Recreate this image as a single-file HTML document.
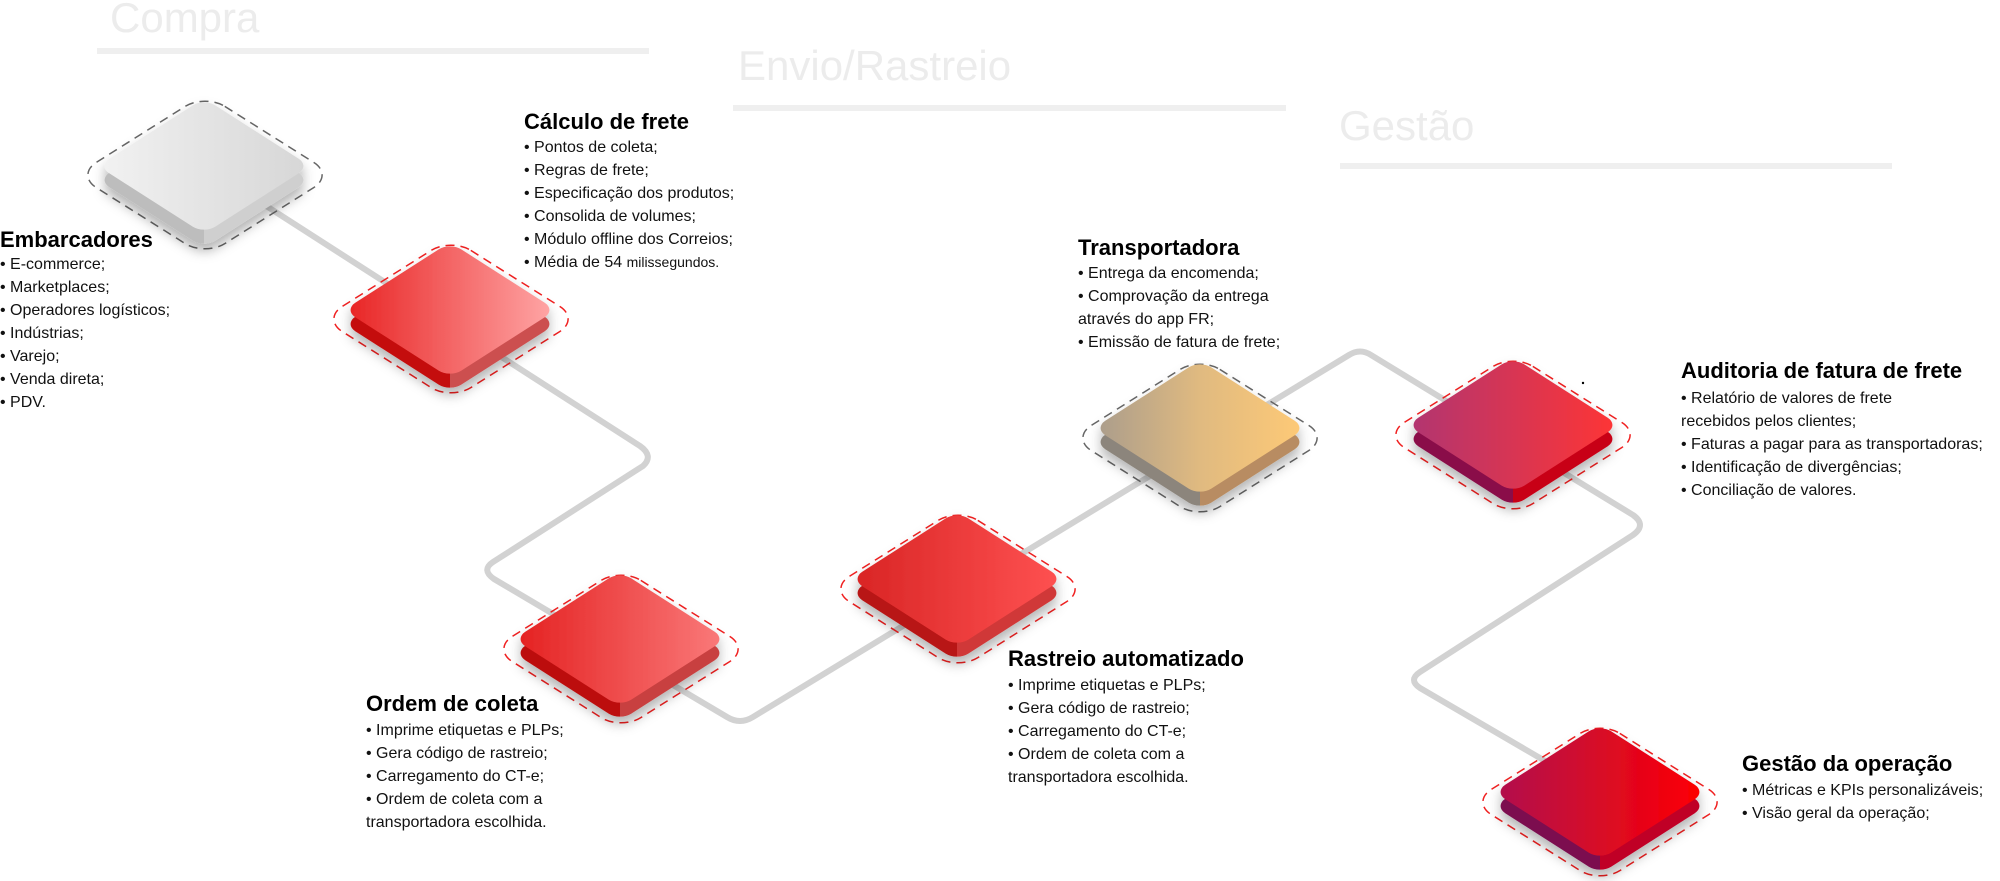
<!DOCTYPE html>
<html><head><meta charset="utf-8"><style>
html,body{margin:0;padding:0;background:#fff;}
svg{display:block;}
.t{font-family:"Liberation Sans Narrow","Liberation Sans",sans-serif;font-weight:bold;font-size:22px;fill:#000;}
.b{font-family:"Liberation Sans Narrow","Liberation Sans",sans-serif;font-size:16px;fill:#111;}
.h{font-family:"Liberation Sans",sans-serif;font-size:42px;fill:#ececec;}
.o{fill:none;stroke-width:1.5;stroke-dasharray:9,6;}
</style></head><body>
<svg width="2000" height="881" viewBox="0 0 2000 881" xmlns="http://www.w3.org/2000/svg">
<defs>
<filter id="sh" x="-30%" y="-30%" width="160%" height="170%"><feDropShadow dx="0" dy="7" stdDeviation="6" flood-color="#000" flood-opacity="0.3"/></filter>
<linearGradient id="gW" gradientUnits="userSpaceOnUse" x1="-75" y1="75" x2="75" y2="-75"><stop offset="0" stop-color="#f2f2f2"/><stop offset="1" stop-color="#d6d6d6"/></linearGradient>
<linearGradient id="g1" gradientUnits="userSpaceOnUse" x1="-75" y1="75" x2="75" y2="-75"><stop offset="0" stop-color="#e82222"/><stop offset="1" stop-color="#ffa8a8"/></linearGradient>
<linearGradient id="g2" gradientUnits="userSpaceOnUse" x1="-75" y1="75" x2="75" y2="-75"><stop offset="0" stop-color="#e42020"/><stop offset="1" stop-color="#fa7b7b"/></linearGradient>
<linearGradient id="g3" gradientUnits="userSpaceOnUse" x1="-75" y1="75" x2="75" y2="-75"><stop offset="0" stop-color="#d82424"/><stop offset="1" stop-color="#ff5252"/></linearGradient>
<linearGradient id="g4" gradientUnits="userSpaceOnUse" x1="-75" y1="75" x2="75" y2="-75"><stop offset="0" stop-color="#a99c8c"/><stop offset="0.5" stop-color="#e0ba80"/><stop offset="1" stop-color="#ffca76"/></linearGradient>
<linearGradient id="g5" gradientUnits="userSpaceOnUse" x1="-75" y1="75" x2="75" y2="-75"><stop offset="0" stop-color="#b03472"/><stop offset="1" stop-color="#ff3434"/></linearGradient>
<linearGradient id="g6" gradientUnits="userSpaceOnUse" x1="-75" y1="75" x2="75" y2="-75"><stop offset="0" stop-color="#b0124e"/><stop offset="1" stop-color="#ff0000"/></linearGradient>
<linearGradient id="sW" gradientUnits="userSpaceOnUse" x1="-75" y1="75" x2="75" y2="-75"><stop offset="0.5" stop-color="#bdbdbd"/><stop offset="0.5" stop-color="#cfcfcf"/></linearGradient>
<linearGradient id="s1" gradientUnits="userSpaceOnUse" x1="-75" y1="75" x2="75" y2="-75"><stop offset="0.5" stop-color="#c40e0e"/><stop offset="0.5" stop-color="#cc5050"/></linearGradient>
<linearGradient id="s2" gradientUnits="userSpaceOnUse" x1="-75" y1="75" x2="75" y2="-75"><stop offset="0.5" stop-color="#bc1010"/><stop offset="0.5" stop-color="#c84040"/></linearGradient>
<linearGradient id="s3" gradientUnits="userSpaceOnUse" x1="-75" y1="75" x2="75" y2="-75"><stop offset="0.5" stop-color="#b81414"/><stop offset="0.5" stop-color="#d03838"/></linearGradient>
<linearGradient id="s4" gradientUnits="userSpaceOnUse" x1="-75" y1="75" x2="75" y2="-75"><stop offset="0.5" stop-color="#8c857c"/><stop offset="0.5" stop-color="#b88c62"/></linearGradient>
<linearGradient id="s5" gradientUnits="userSpaceOnUse" x1="-75" y1="75" x2="75" y2="-75"><stop offset="0.5" stop-color="#8a0e48"/><stop offset="0.5" stop-color="#c80418"/></linearGradient>
<linearGradient id="s6" gradientUnits="userSpaceOnUse" x1="-75" y1="75" x2="75" y2="-75"><stop offset="0.5" stop-color="#7c1050"/><stop offset="0.5" stop-color="#c00028"/></linearGradient>
<rect id="face" x="-75" y="-75" width="150" height="150" rx="16"/>
<rect id="ol" x="-91" y="-91" width="182" height="182" rx="28" vector-effect="non-scaling-stroke"/>
</defs>

<text class="h" x="110" y="32">Compra</text>
<rect x="97" y="48" width="552" height="6" fill="#efefef"/>
<text class="h" x="738" y="80">Envio/Rastreio</text>
<rect x="733" y="105" width="553" height="6" fill="#efefef"/>
<text class="h" x="1339" y="140">Gestão</text>
<rect x="1340" y="163" width="552" height="6" fill="#efefef"/>

<path d="M204,166 L640,446 Q654,456 643,466 L493,562 Q481,570 494,579 L727,717 Q740,725 753,717 L1349,355 Q1360,348 1371,355 L1633,515 Q1647,525 1633,535 L1420,672 Q1408,680 1420,688 L1600,793" fill="none" stroke="#d2d2d2" stroke-width="6" stroke-linejoin="round"/>

<!-- White -->
<use href="#ol" class="o" stroke="#666" transform="translate(205,175) scale(1,0.63) rotate(45)"/>
<g filter="url(#sh)">
<use href="#face" fill="url(#sW)" transform="translate(204,180) scale(1,0.64) rotate(45)"/>
<use href="#face" fill="url(#gW)" transform="translate(204,166) scale(1,0.64) rotate(45)"/>
</g>

<!-- Red1 -->
<use href="#ol" class="o" stroke="#f02020" transform="translate(451,319) scale(1,0.63) rotate(45)"/>
<g filter="url(#sh)">
<use href="#face" fill="url(#s1)" transform="translate(450,324) scale(1,0.64) rotate(45)"/>
<use href="#face" fill="url(#g1)" transform="translate(450,310) scale(1,0.64) rotate(45)"/>
</g>

<!-- Ordem -->
<use href="#ol" class="o" stroke="#f02020" transform="translate(621,649) scale(1,0.63) rotate(45)"/>
<g filter="url(#sh)">
<use href="#face" fill="url(#s2)" transform="translate(620,653) scale(1,0.64) rotate(45)"/>
<use href="#face" fill="url(#g2)" transform="translate(620,639) scale(1,0.64) rotate(45)"/>
</g>

<!-- Rastreio -->
<use href="#ol" class="o" stroke="#f02020" transform="translate(958,589) scale(1,0.63) rotate(45)"/>
<g filter="url(#sh)">
<use href="#face" fill="url(#s3)" transform="translate(957,593) scale(1,0.64) rotate(45)"/>
<use href="#face" fill="url(#g3)" transform="translate(957,579) scale(1,0.64) rotate(45)"/>
</g>

<!-- Transportadora -->
<use href="#ol" class="o" stroke="#666" transform="translate(1200,438) scale(1,0.63) rotate(45)"/>
<g filter="url(#sh)">
<use href="#face" fill="url(#s4)" transform="translate(1200,442) scale(1,0.64) rotate(45)"/>
<use href="#face" fill="url(#g4)" transform="translate(1200,428) scale(1,0.64) rotate(45)"/>
</g>

<!-- Auditoria -->
<use href="#ol" class="o" stroke="#f02020" transform="translate(1513,435) scale(1,0.63) rotate(45)"/>
<g filter="url(#sh)">
<use href="#face" fill="url(#s5)" transform="translate(1513,439) scale(1,0.64) rotate(45)"/>
<use href="#face" fill="url(#g5)" transform="translate(1513,425) scale(1,0.64) rotate(45)"/>
</g>
<circle cx="1583" cy="383" r="1.2" fill="#000"/>

<!-- Gestão -->
<use href="#ol" class="o" stroke="#f02020" transform="translate(1600,802) scale(1,0.63) rotate(45)"/>
<g filter="url(#sh)">
<use href="#face" fill="url(#s6)" transform="translate(1600,806) scale(1,0.64) rotate(45)"/>
<use href="#face" fill="url(#g6)" transform="translate(1600,792) scale(1,0.64) rotate(45)"/>
</g>

<text class="t" x="0" y="247">Embarcadores</text>
<text class="b" x="0" y="269">• E-commerce;</text>
<text class="b" x="0" y="292">• Marketplaces;</text>
<text class="b" x="0" y="315">• Operadores logísticos;</text>
<text class="b" x="0" y="338">• Indústrias;</text>
<text class="b" x="0" y="361">• Varejo;</text>
<text class="b" x="0" y="384">• Venda direta;</text>
<text class="b" x="0" y="407">• PDV.</text>

<text class="t" x="524" y="129">Cálculo de frete</text>
<text class="b" x="524" y="152">• Pontos de coleta;</text>
<text class="b" x="524" y="175">• Regras de frete;</text>
<text class="b" x="524" y="198">• Especificação dos produtos;</text>
<text class="b" x="524" y="221">• Consolida de volumes;</text>
<text class="b" x="524" y="244">• Módulo offline dos Correios;</text>
<text class="b" x="524" y="267">• Média de 54 <tspan font-size="14">milissegundos.</tspan></text>

<text class="t" x="1078" y="255">Transportadora</text>
<text class="b" x="1078" y="278">• Entrega da encomenda;</text>
<text class="b" x="1078" y="301">• Comprovação da entrega</text>
<text class="b" x="1078" y="324">através do app FR;</text>
<text class="b" x="1078" y="347">• Emissão de fatura de frete;</text>

<text class="t" x="1681" y="378">Auditoria de fatura de frete</text>
<text class="b" x="1681" y="403">• Relatório de valores de frete</text>
<text class="b" x="1681" y="426">recebidos pelos clientes;</text>
<text class="b" x="1681" y="449">• Faturas a pagar para as transportadoras;</text>
<text class="b" x="1681" y="472">• Identificação de divergências;</text>
<text class="b" x="1681" y="495">• Conciliação de valores.</text>

<text class="t" x="366" y="711">Ordem de coleta</text>
<text class="b" x="366" y="735">• Imprime etiquetas e PLPs;</text>
<text class="b" x="366" y="758">• Gera código de rastreio;</text>
<text class="b" x="366" y="781">• Carregamento do CT-e;</text>
<text class="b" x="366" y="804">• Ordem de coleta com a</text>
<text class="b" x="366" y="827">transportadora escolhida.</text>

<text class="t" x="1008" y="666">Rastreio automatizado</text>
<text class="b" x="1008" y="690">• Imprime etiquetas e PLPs;</text>
<text class="b" x="1008" y="713">• Gera código de rastreio;</text>
<text class="b" x="1008" y="736">• Carregamento do CT-e;</text>
<text class="b" x="1008" y="759">• Ordem de coleta com a</text>
<text class="b" x="1008" y="782">transportadora escolhida.</text>

<text class="t" x="1742" y="771">Gestão da operação</text>
<text class="b" x="1742" y="795">• Métricas e KPIs personalizáveis;</text>
<text class="b" x="1742" y="818">• Visão geral da operação;</text>
</svg>
</body></html>
